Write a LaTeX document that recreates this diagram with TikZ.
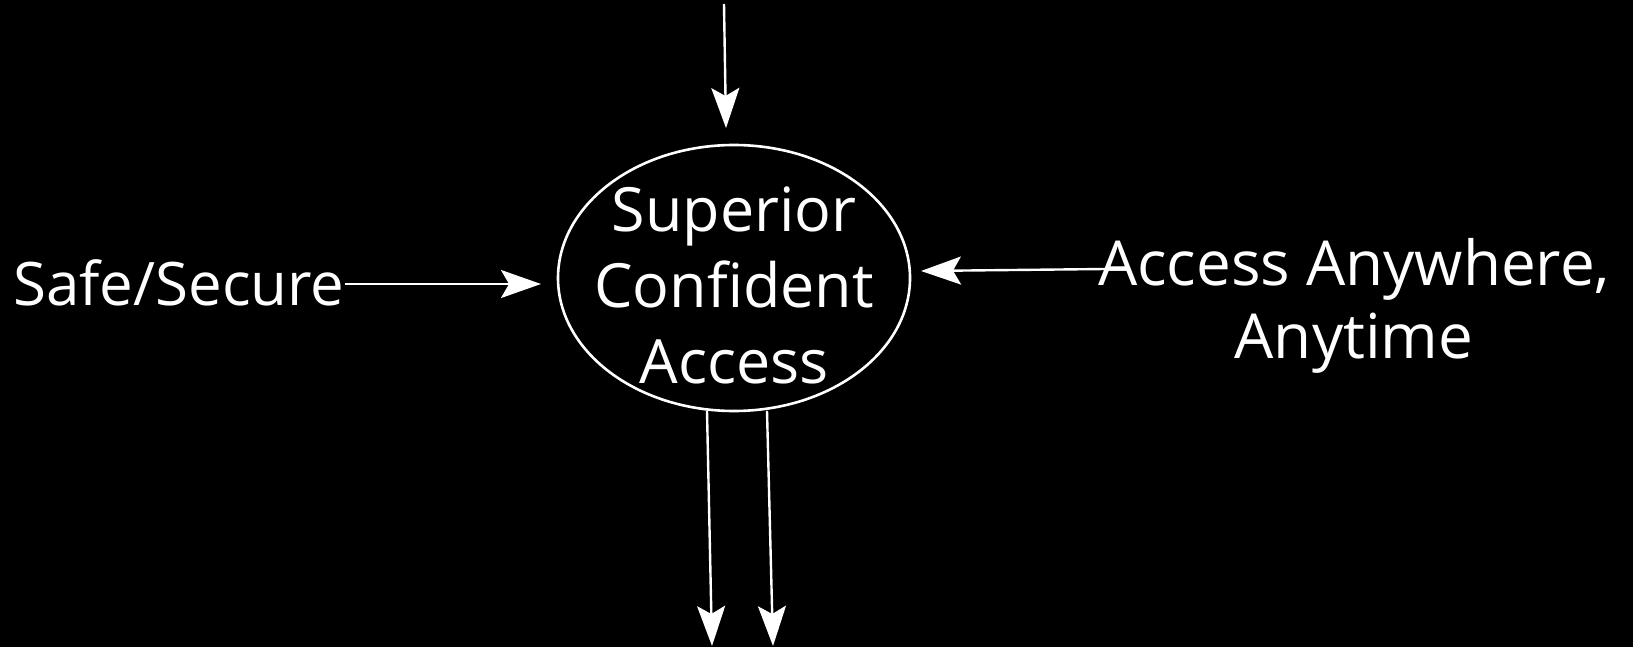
\documentclass[tikz,border=0pt]{standalone}
\usepackage{fontspec}
\setmainfont{Open Sans}
\usetikzlibrary{arrows.meta,shapes.geometric}
\begin{document}
\begin{tikzpicture}[x=1pt,y=-1pt,
  every node/.style={text=white},
  ell/.style={draw=white,line width=2.6pt,ellipse,minimum width=352pt,minimum height=266pt,inner sep=0pt},
  lbl/.style={inner sep=0pt,align=center},
  arr/.style={draw=white,line width=2.4pt,-{Stealth[length=40pt,width=28pt,inset=8pt]}}]
\fill[black] (0,0) rectangle (1633,647);
\useasboundingbox (0,0) rectangle (1633,647);
\node[ell] (sc) at (734,278) {};
\node[lbl,font=\fontsize{61}{76}\selectfont] (sctext) at ([yshift=-7pt]sc.center) {Superior\\Confident\\Access};
\node[lbl,anchor=base west,font=\fontsize{60}{72}\selectfont] (safe) at (13,305) {Safe/Secure};
\node[lbl,anchor=north,font=\fontsize{62}{73}\selectfont] (any) at (1354,238) {Access Anywhere,\\Anytime};
\coordinate (topstart) at (724,4);
\coordinate (topend) at (726,128);
\coordinate (safeend) at (541,284);
\coordinate (anystart) at (1105,269);
\coordinate (anyend) at (921,271);
\coordinate (b1s) at (707,411);
\coordinate (b1e) at (712,646);
\coordinate (b2s) at (767,411);
\coordinate (b2e) at (773,646);
\draw[arr] (topstart) -- (topend);
\draw[arr] (safe.east |- safeend) -- (safeend);
\draw[arr] (anystart) -- (anyend);
\draw[arr] (b1s) -- (b1e);
\draw[arr] (b2s) -- (b2e);
\end{tikzpicture}
\end{document}
